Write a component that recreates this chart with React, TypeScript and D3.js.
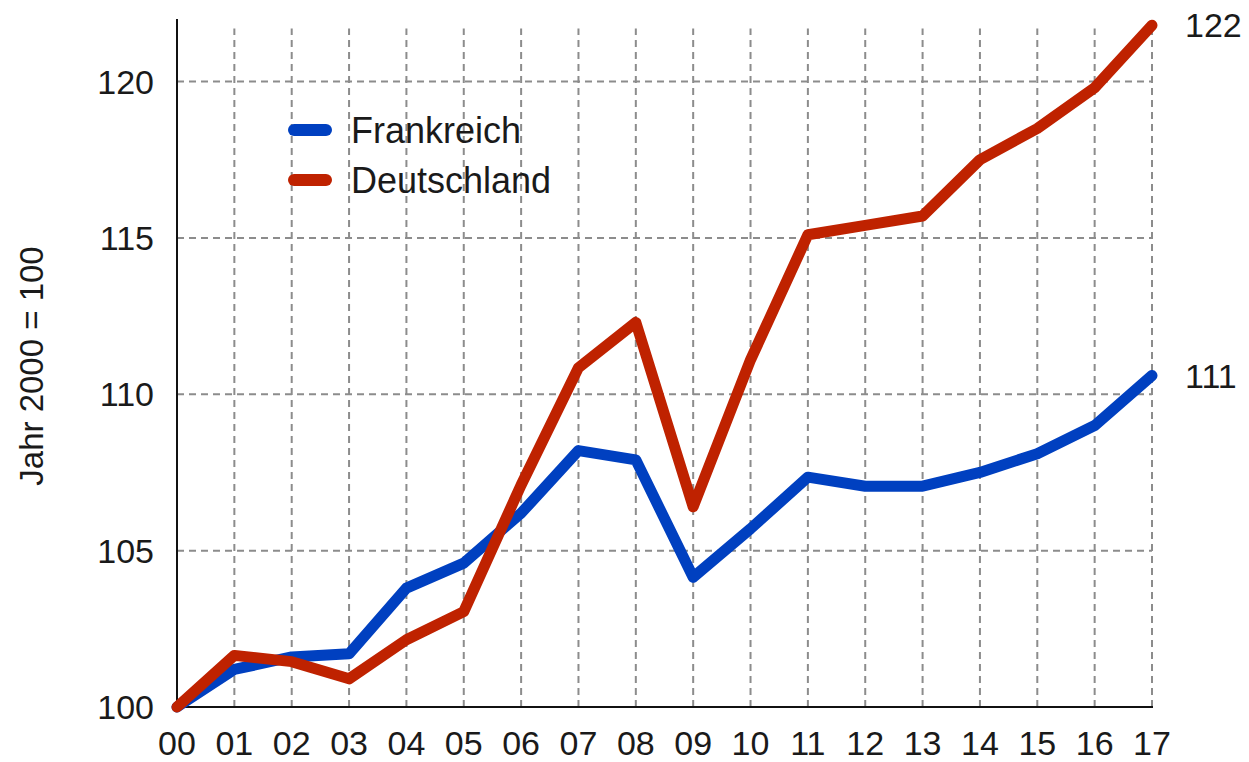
import React from "react";
import * as d3 from "d3";

// years 2000..2017, shown as two-digit labels
const years = ["00", "01", "02", "03", "04", "05", "06", "07", "08", "09", "10", "11", "12", "13", "14", "15", "16", "17"];
const frankreich = [100, 101.2, 101.6, 101.7, 103.8, 104.6, 106.2, 108.2, 107.9, 104.15, 105.7, 107.35, 107.06, 107.06, 107.5, 108.1, 109.0, 110.6];
const deutschland = [100, 101.65, 101.45, 100.9, 102.15, 103.05, 107.1, 110.85, 112.3, 106.4, 111.1, 115.1, 115.4, 115.7, 117.5, 118.5, 119.8, 121.8];
const yTicks = [100, 105, 110, 115, 120];
const endLabels = ["111", "122"];

const series = [
  { name: "Frankreich", values: frankreich, color: "#0040c0", label: endLabels[0] },
  { name: "Deutschland", values: deutschland, color: "#bf2200", label: endLabels[1] },
];

const App = () => {
  const svgRef = React.useRef(null);
  const width = 1249;
  const height = 762;
  const font = "'Liberation Sans', Arial, sans-serif";

  React.useEffect(() => {
    const svg = d3.select(svgRef.current);
    svg.selectAll("*").remove();

    const x = d3.scaleLinear().domain([0, years.length - 1]).range([177, 1152]);
    const y = d3.scaleLinear().domain([100, 122]).range([707, 19]);

    // grid
    const grid = svg.append("g").attr("stroke", "#8c8c8c").attr("stroke-width", 2).attr("stroke-dasharray", "7,5");
    grid
      .selectAll("line.v")
      .data(years.slice(1))
      .join("line")
      .attr("x1", (d, i) => x(i + 1))
      .attr("x2", (d, i) => x(i + 1))
      .attr("y1", y(100))
      .attr("y2", y(121.7));
    grid
      .selectAll("line.h")
      .data(yTicks.slice(1))
      .join("line")
      .attr("x1", x(0))
      .attr("x2", x(17))
      .attr("y1", (d) => y(d))
      .attr("y2", (d) => y(d));

    // axes
    svg
      .append("line")
      .attr("x1", x(0))
      .attr("x2", x(0))
      .attr("y1", y(122))
      .attr("y2", y(100))
      .attr("stroke", "#111")
      .attr("stroke-width", 2);
    svg
      .append("line")
      .attr("x1", x(0) - 1)
      .attr("x2", x(17) + 1)
      .attr("y1", y(100))
      .attr("y2", y(100))
      .attr("stroke", "#111")
      .attr("stroke-width", 2);

    // tick labels
    svg
      .append("g")
      .selectAll("text")
      .data(yTicks)
      .join("text")
      .attr("x", 154)
      .attr("y", (d) => y(d) + 12)
      .attr("text-anchor", "end")
      .text((d) => d);
    svg
      .append("g")
      .selectAll("text")
      .data(years)
      .join("text")
      .attr("x", (d, i) => x(i))
      .attr("y", 755)
      .attr("text-anchor", "middle")
      .text((d) => d);

    // y-axis title
    svg
      .append("text")
      .attr("transform", "translate(43,366) rotate(-90)")
      .attr("text-anchor", "middle")
      .attr("font-size", 33)
      .text("Jahr 2000 = 100");

    // lines
    const line = d3
      .line()
      .x((d, i) => x(i))
      .y((d) => y(d));

    series.forEach((s) => {
      svg
        .append("path")
        .datum(s.values)
        .attr("fill", "none")
        .attr("stroke", s.color)
        .attr("stroke-width", 11)
        .attr("stroke-linejoin", "round")
        .attr("stroke-linecap", "round")
        .attr("d", line);

      svg
        .append("text")
        .attr("x", 1185)
        .attr("y", y(s.values[s.values.length - 1]) + 12)
        .text(s.label);
    });

    // legend
    const legend = svg.append("g");
    series.forEach((s, i) => {
      const ly = 130 + i * 50;
      legend
        .append("line")
        .attr("x1", 294)
        .attr("x2", 326)
        .attr("y1", ly)
        .attr("y2", ly)
        .attr("stroke", s.color)
        .attr("stroke-width", 12)
        .attr("stroke-linecap", "round");
      legend
        .append("text")
        .attr("x", 351)
        .attr("y", ly + 13)
        .attr("font-size", 36)
        .text(s.name);
    });
  }, []);

  return (
    <svg
      ref={svgRef}
      width={width}
      height={height}
      fontFamily={font}
      fontSize={34}
      fill="#1a1a1a"
      style={{ position: "absolute", left: 0, top: 0, background: "#fff" }}
    />
  );
};

export default App;
